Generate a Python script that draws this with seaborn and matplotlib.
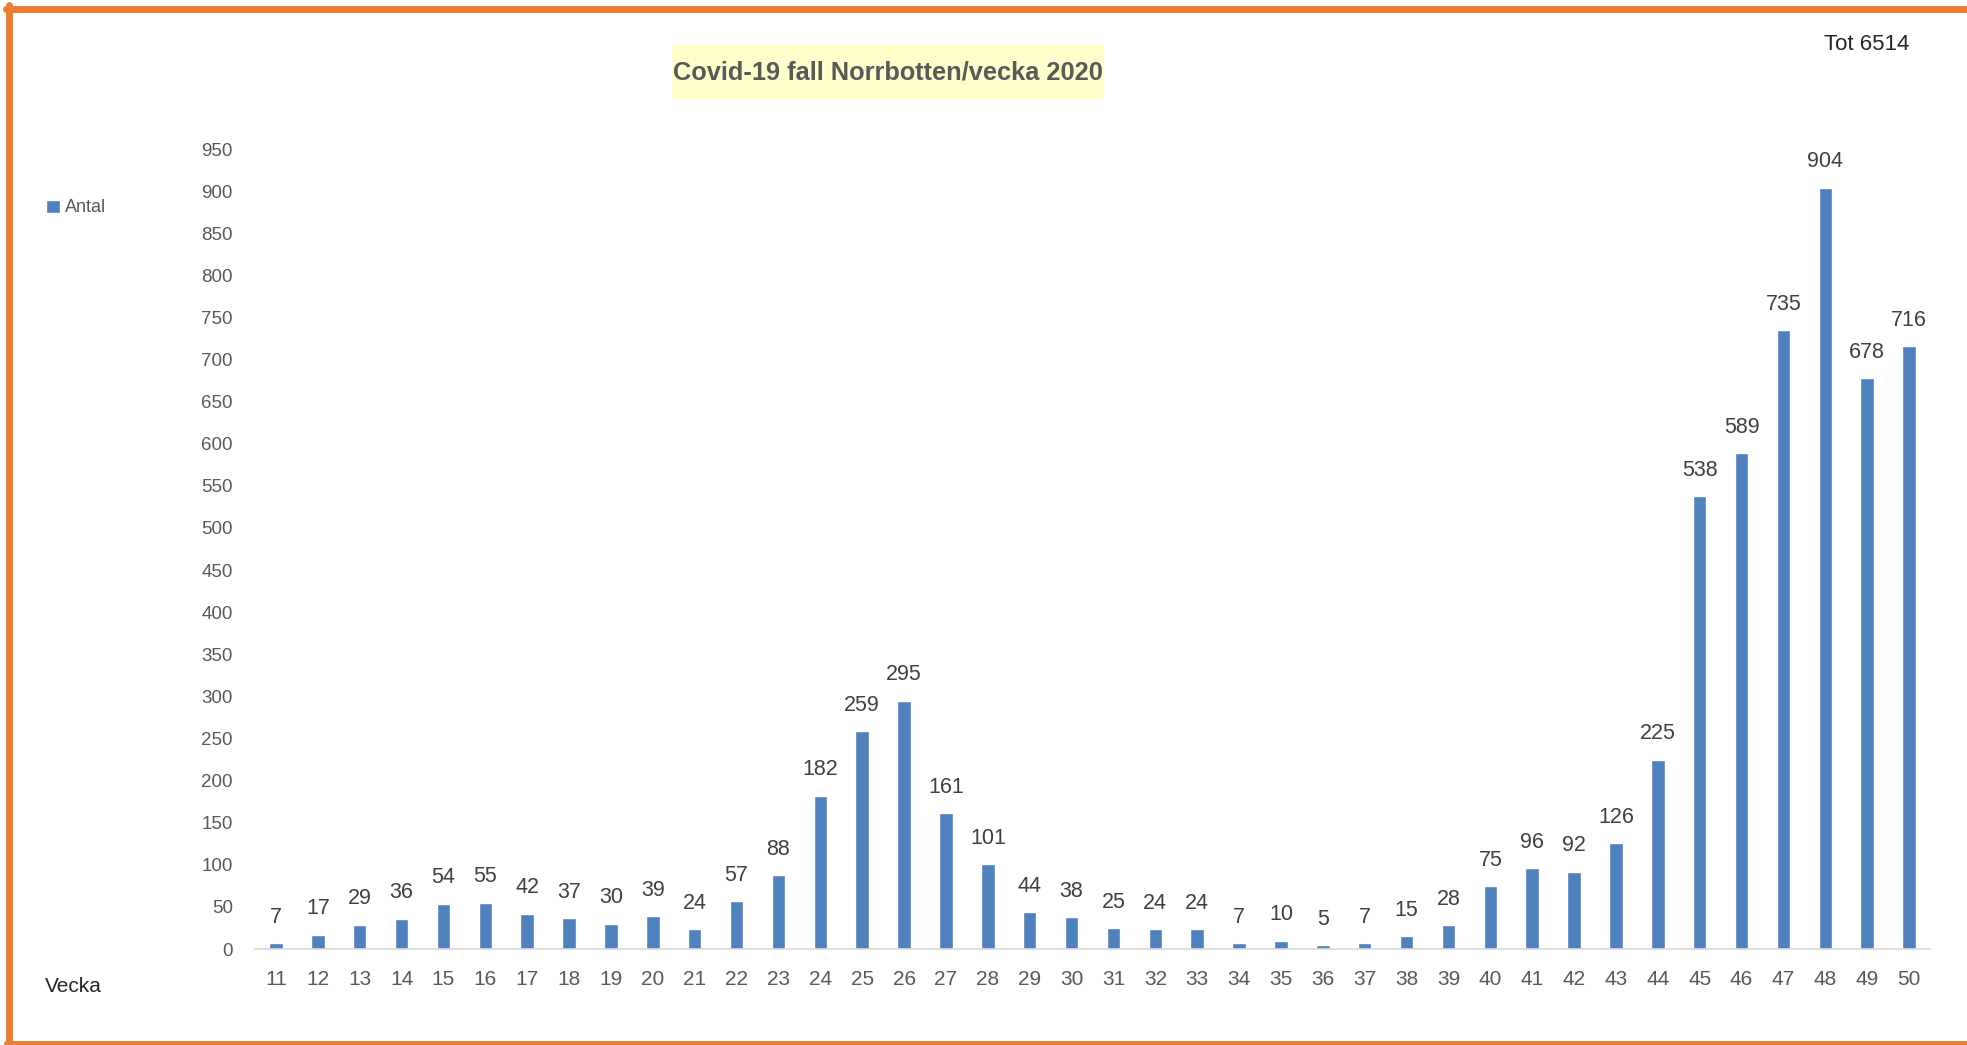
import numpy as np
import pandas as pd
import seaborn as sns
import matplotlib.pyplot as plt
from matplotlib.patches import Rectangle, Patch
from matplotlib.lines import Line2D

# data
weeks = [str(w) for w in range(11, 51)]
cases = [7, 17, 29, 36, 54, 55, 42, 37, 30, 39, 24, 57, 88, 182, 259, 295, 161, 101,
         44, 38, 25, 24, 24, 7, 10, 5, 7, 15, 28, 75, 96, 92, 126, 225, 538, 589,
         735, 904, 678, 716]
y_ticks = list(range(0, 951, 50))
title = "Covid-19 fall Norrbotten/vecka 2020"
total_label = "Tot 6514"
series_name = "Antal"
x_name = "Vecka"

BAR = "#4F81BD"
ORANGE = "#ED7D31"
REG = ["Liberation Sans", "DejaVu Sans"]

sns.set_theme(style="white")
plt.rcParams["font.family"] = REG

df = pd.DataFrame({"week": weeks, "cases": cases})

W, H = 1967, 1045
fig = plt.figure(figsize=(W / 100, H / 100), dpi=100)
ax = fig.add_axes([255 / W, 1 - 949 / H, (1930 - 255) / W, (949 - 149) / H])

sns.barplot(data=df, x="week", y="cases", order=weeks, color=BAR, saturation=1,
            width=0.32, ax=ax)

ax.set_xlim(-0.5, len(weeks) - 0.5)
ax.set_ylim(0, 950)
ax.set_yticks(y_ticks)
ax.set_yticklabels([str(t) for t in y_ticks], fontsize=13.5, color="#595959")
ax.set_xticks(range(len(weeks)))
ax.set_xticklabels(weeks, fontsize=15, color="#595959")
ax.tick_params(axis="y", length=0, pad=16)
ax.tick_params(axis="x", length=0, pad=15)
ax.set_xlabel("")
ax.set_ylabel("")
ax.grid(False)
for s in ["left", "right", "top"]:
    ax.spines[s].set_visible(False)
ax.spines["bottom"].set_color("#D9D9D9")
ax.spines["bottom"].set_linewidth(1.2)

for c in ax.containers:
    ax.bar_label(c, labels=[str(v) for v in cases], padding=11, fontsize=15.5, color="#404040")

# title with yellow box
fig.patches.append(Rectangle((672 / W, 1 - 99 / H), (1104 - 672) / W, 54 / H,
                             transform=fig.transFigure, facecolor="#FFFFCC",
                             edgecolor="none", zorder=0))
fig.text(888 / W, 1 - 73 / H, title, ha="center", va="center", fontsize=18.3,
         fontweight="bold", color="#595959")

fig.text(1867 / W, 1 - 45 / H, total_label, ha="center", va="center", fontsize=16,
         color="#262626")
fig.text(45 / W, 1 - 986 / H, x_name, ha="left", va="center", fontsize=15,
         color="#262626")

leg = fig.legend(handles=[Patch(facecolor=BAR, label=series_name)],
                 loc="center left", bbox_to_anchor=(46 / W, 1 - 208 / H),
                 frameon=False, handlelength=0.75, handleheight=0.75,
                 handletextpad=0.3, borderpad=0, borderaxespad=0,
                 prop={"size": 13})
for t in leg.get_texts():
    t.set_color("#595959")

# orange frame (left, top, bottom; right edge is cut off)
fig.lines.append(Line2D([9 / W, 9 / W], [0, 1 - 5 / H], transform=fig.transFigure,
                        color=ORANGE, linewidth=5))
fig.lines.append(Line2D([6 / W, 1], [1 - 8.5 / H, 1 - 8.5 / H], transform=fig.transFigure,
                        color=ORANGE, linewidth=5))
fig.lines.append(Line2D([6 / W, 1], [2.5 / H, 2.5 / H], transform=fig.transFigure,
                        color=ORANGE, linewidth=3.5))

fig.savefig("out.png", dpi=100, facecolor="white")
